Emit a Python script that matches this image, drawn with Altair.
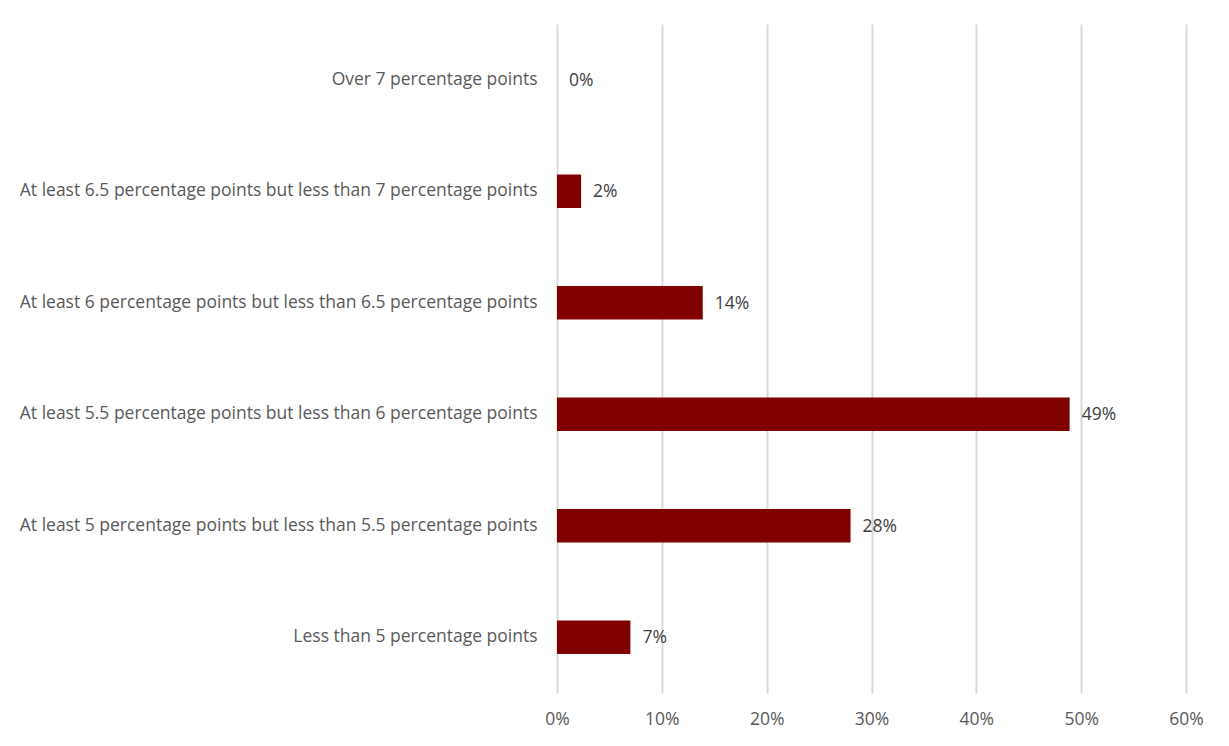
import altair as alt
import pandas as pd

categories = [
    "Over 7 percentage points",
    "At least 6.5 percentage points but less than 7 percentage points",
    "At least 6 percentage points but less than 6.5 percentage points",
    "At least 5.5 percentage points but less than 6 percentage points",
    "At least 5 percentage points but less than 5.5 percentage points",
    "Less than 5 percentage points",
]
values = [0.0, 0.023, 0.139, 0.489, 0.28, 0.07]
labels = ["0%", "2%", "14%", "49%", "28%", "7%"]

df = pd.DataFrame({"cat": categories, "val": values, "label": labels})

FONT = "Open Sans"
FS = 17.5
y = alt.Y("cat:N", sort=categories, title=None,
          scale=alt.Scale(paddingInner=0.7, paddingOuter=0.35),
          axis=alt.Axis(domain=False, ticks=False, labelPadding=20,
                        labelFont=FONT, labelFontSize=FS, labelColor="#595959",
                        labelLimit=600, grid=False))
x = alt.X("val:Q", title=None,
          scale=alt.Scale(domain=[0, 0.6], nice=False),
          axis=alt.Axis(format=".0%", values=[0, .1, .2, .3, .4, .5, .6],
                        domain=False, ticks=False, labelPadding=17, labelFlush=False,
                        labelFont=FONT, labelFontSize=FS, labelColor="#595959",
                        grid=True, gridColor="#d9d9d9", gridWidth=2))

bars = alt.Chart(df).mark_bar(color="#800000").encode(x=x, y=y)
text = alt.Chart(df).mark_text(align="left", dx=12, dy=1, font=FONT, fontSize=FS,
                               color="#404040").encode(
    x="val:Q", y=alt.Y("cat:N", sort=categories), text="label:N")

chart = (bars + text).properties(
    width=629, height=669,
    autosize=alt.AutoSizeParams(type="none"),
    padding={"left": 549, "top": 16, "right": 35, "bottom": 45},
).configure_view(stroke=None)

chart.save("out.html", embed_options={"renderer": "svg", "actions": False})
